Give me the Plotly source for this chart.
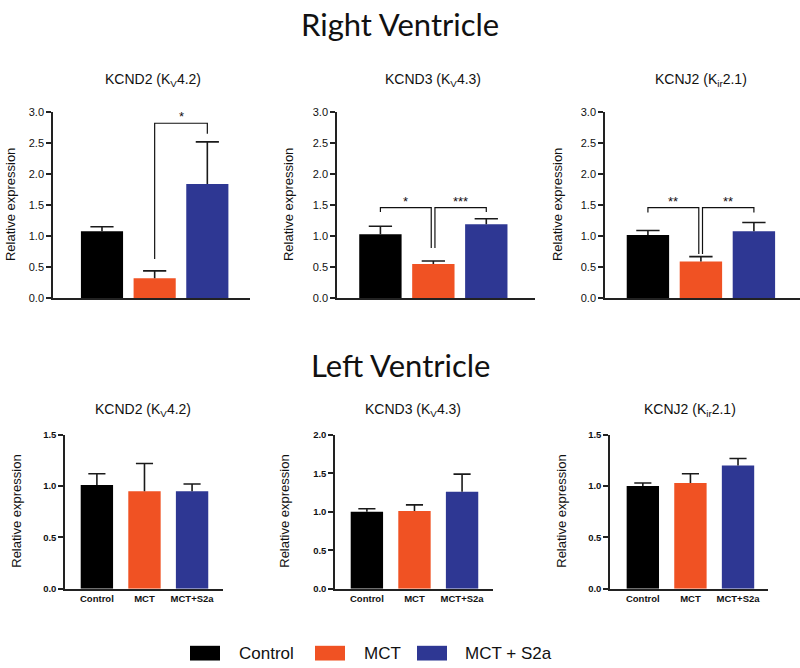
import plotly.graph_objects as go

# ---------------- data ----------------
groups = ["Control", "MCT", "MCT + S2a"]
tick_groups = ["Control", "MCT", "MCT+S2a"]
colors = ["#000000", "#F05223", "#2E3793"]

panel_titles = ["KCND2 (K<sub>V</sub>4.2)", "KCND3 (K<sub>V</sub>4.3)", "KCNJ2 (K<sub>ir</sub>2.1)"]

# Right ventricle means and SEM
rv_kcnd2 = [1.08, 0.32, 1.84]
rv_kcnd2_sem = [0.07, 0.12, 0.68]
rv_kcnd3 = [1.03, 0.55, 1.19]
rv_kcnd3_sem = [0.13, 0.05, 0.09]
rv_kcnj2 = [1.02, 0.59, 1.08]
rv_kcnj2_sem = [0.07, 0.08, 0.14]

# Left ventricle means and SEM
lv_kcnd2 = [1.01, 0.95, 0.95]
lv_kcnd2_sem = [0.11, 0.27, 0.07]
lv_kcnd3 = [1.00, 1.01, 1.26]
lv_kcnd3_sem = [0.04, 0.08, 0.23]
lv_kcnj2 = [1.00, 1.03, 1.20]
lv_kcnj2_sem = [0.03, 0.09, 0.07]

# significance brackets: (x_left, x_right, y_top, y_left_end, y_right_end, label)
rv_kcnd2_sig = [(1, 2, 2.82, 0.63, 2.65, "*")]
rv_kcnd3_sig = [(0, 0.96, 1.46, 1.39, 0.81, "*"), (1.03, 2, 1.46, 0.81, 1.39, "***")]
rv_kcnj2_sig = [(0, 0.96, 1.46, 1.38, 0.71, "**"), (1.03, 2, 1.46, 0.71, 1.38, "**")]

W, H = 800, 668
FONT = "Liberation Sans, Arial, sans-serif"


def px(x):
    return x / W


def py(y):
    return 1 - y / H


panels = [
    dict(m=rv_kcnd2, s=rv_kcnd2_sem, sig=rv_kcnd2_sig, t=panel_titles[0], xd=(53, 250), xr=(-0.93, 2.81),
         yd=(297.5, 108), yr=(0, 3), dt=0.5, top=True, tx=153, ty=75, lx=10),
    dict(m=rv_kcnd3, s=rv_kcnd3_sem, sig=rv_kcnd3_sig, t=panel_titles[1], xd=(337, 535), xr=(-0.82, 2.92),
         yd=(297.5, 108), yr=(0, 3), dt=0.5, top=True, tx=433, ty=75, lx=288),
    dict(m=rv_kcnj2, s=rv_kcnj2_sem, sig=rv_kcnj2_sig, t=panel_titles[2], xd=(605, 800), xr=(-0.81, 2.87),
         yd=(297.5, 108), yr=(0, 3), dt=0.5, top=True, tx=701, ty=75, lx=557),
    dict(m=lv_kcnd2, s=lv_kcnd2_sem, sig=[], t=panel_titles[0], xd=(65, 223), xr=(-0.67, 2.65),
         yd=(593.3, 436.7), yr=(0, 1.5), dt=0.5, top=False, tx=143, ty=411, lx=17),
    dict(m=lv_kcnd3, s=lv_kcnd3_sem, sig=[], t=panel_titles[1], xd=(335, 493), xr=(-0.67, 2.65),
         yd=(593.3, 436.7), yr=(0, 2.0), dt=0.5, top=False, tx=413, ty=411, lx=285),
    dict(m=lv_kcnj2, s=lv_kcnj2_sem, sig=[], t=panel_titles[2], xd=(610, 768), xr=(-0.69, 2.63),
         yd=(593.3, 436.7), yr=(0, 1.5), dt=0.5, top=False, tx=690, ty=411, lx=562),
]

fig = go.Figure()
layout = dict(width=W, height=H, margin=dict(l=0, r=0, t=0, b=0),
              plot_bgcolor="white", paper_bgcolor="white", showlegend=False,
              font=dict(family=FONT, color="#111"))
shapes = []
annotations = []
xs = [0, 1, 2]

for k, p in enumerate(panels):
    n = k + 1
    xa = "x" if n == 1 else f"x{n}"
    ya = "y" if n == 1 else f"y{n}"
    xkey = "xaxis" if n == 1 else f"xaxis{n}"
    ykey = "yaxis" if n == 1 else f"yaxis{n}"
    bw = 0.8 if p["top"] else 0.68
    cap = 0.22 if p["top"] else 0.18

    fig.add_trace(go.Bar(x=xs, y=p["m"], width=bw, marker=dict(color=colors, line=dict(width=0)),
                         xaxis=xa, yaxis=ya, hoverinfo="skip"))
    # one-sided (upward) error bars
    ex, ey = [], []
    for i, (m, s) in enumerate(zip(p["m"], p["s"])):
        ex += [i, i, None, i - cap, i + cap, None]
        ey += [m, m + s, None, m + s, m + s, None]
    fig.add_trace(go.Scatter(x=ex, y=ey, mode="lines", line=dict(color="#1a1a1a", width=1.6),
                             xaxis=xa, yaxis=ya, hoverinfo="skip"))

    tickfont = dict(size=11, family=FONT, color="#111") if p["top"] else dict(size=9.5, family=FONT, color="#111", weight="bold")
    xaxis = dict(domain=[px(p["xd"][0]), px(p["xd"][1])], range=list(p["xr"]), anchor=ya,
                 showline=True, linecolor="#222", linewidth=1.5, showgrid=False, zeroline=False,
                 ticks="", fixedrange=True)
    if p["top"]:
        xaxis["showticklabels"] = False
    else:
        xaxis.update(tickvals=xs, ticktext=tick_groups,
                     tickfont=dict(size=9.5, family=FONT, color="#111", weight="bold"))
    layout[xkey] = xaxis
    layout[ykey] = dict(domain=[py(p["yd"][0]), py(p["yd"][1])], range=list(p["yr"]), anchor=xa,
                        showline=True, linecolor="#222", linewidth=1.5, showgrid=False, zeroline=False,
                        ticks="outside", ticklen=5, tickwidth=1.5, tickcolor="#222",
                        dtick=p["dt"], tick0=0, tickformat=".1f", tickfont=tickfont, fixedrange=True)

    # significance brackets
    for (xl, xr_, yt, yle, yre, lab) in p["sig"]:
        shapes.append(dict(type="path", xref=xa, yref=ya,
                           path=f"M {xl},{yle} L {xl},{yt} L {xr_},{yt} L {xr_},{yre}",
                           line=dict(color="#111", width=1.2)))
        annotations.append(dict(x=(xl + xr_) / 2, y=yt, xref=xa, yref=ya, text=lab, showarrow=False,
                                yanchor="bottom", yshift=-3, font=dict(size=13, family=FONT, color="#111")))

    # panel title
    annotations.append(dict(x=px(p["tx"]), y=py(p["ty"]), xref="paper", yref="paper", text=p["t"],
                            showarrow=False, xanchor="center", yanchor="middle",
                            font=dict(size=14, family=FONT, color="#111")))
    # y-axis title
    yc = (p["yd"][0] + p["yd"][1]) / 2
    annotations.append(dict(x=px(p["lx"]), y=py(yc), xref="paper", yref="paper", text="Relative expression",
                            showarrow=False, textangle=-90, xanchor="center", yanchor="middle",
                            font=dict(size=13, family=FONT, color="#111")))

# section headings
annotations.append(dict(x=0.5, y=py(18), xref="paper", yref="paper", text="Right Ventricle", showarrow=False,
                        xanchor="center", yanchor="middle", font=dict(size=31, family="Lato, sans-serif", color="#111")))
annotations.append(dict(x=0.5, y=py(366), xref="paper", yref="paper", text="Left Ventricle", showarrow=False,
                        xanchor="center", yanchor="middle", font=dict(size=31, family="Lato, sans-serif", color="#111")))

# legend (drawn manually to match wide swatches)
legend_box_x = [190, 315, 417]
legend_txt_x = [237, 362, 463]
for g, c, bx, tx in zip(groups, colors, legend_box_x, legend_txt_x):
    shapes.append(dict(type="rect", xref="paper", yref="paper", x0=px(bx), x1=px(bx + 30),
                       y0=py(666.5), y1=py(651.5), fillcolor=c, line=dict(width=0)))
    annotations.append(dict(x=px(tx), y=py(659), xref="paper", yref="paper", text=g, showarrow=False,
                            xanchor="left", yanchor="middle", font=dict(size=17, family=FONT, color="#111")))

layout["shapes"] = shapes
layout["annotations"] = annotations
fig.update_layout(**layout)
fig.write_html("out.html", config={"displayModeBar": False},
               post_script="document.body.style.margin='0px';document.body.style.overflow='hidden';")
